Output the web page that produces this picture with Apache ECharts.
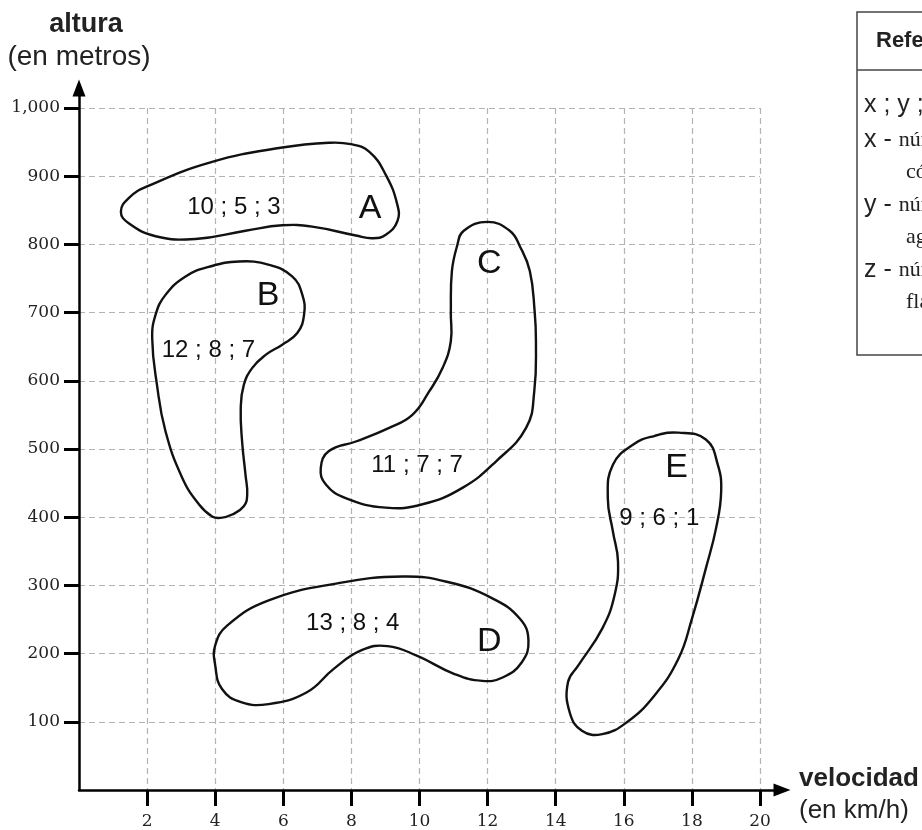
<!DOCTYPE html>
<html>
<head>
<meta charset="utf-8">
<script src="https://cdn.jsdelivr.net/npm/echarts@6/dist/echarts.min.js"></script>
<style>
  html, body { margin: 0; padding: 0; background: #fff; }
  #chart { width: 922px; height: 830px; }
</style>
</head>
<body>
<div id="chart"></div>
<script>
const xTicks = [2, 4, 6, 8, 10, 12, 14, 16, 18, 20];
const yTicks = [100, 200, 300, 400, 500, 600, 700, 800, 900, 1000];

const groups = ["A", "B", "C", "D", "E"];
const groupValues = ["10 ; 5 ; 3", "12 ; 8 ; 7", "11 ; 7 ; 7", "13 ; 8 ; 4", "9 ; 6 ; 1"];
const letterPos = [[8.55, 853], [5.55, 725], [12.05, 772], [12.05, 218], [17.55, 473]];
const valuePos = [[4.55, 855], [3.8, 645], [9.93, 476], [8.04, 245], [17.04, 399]];

// outlines (velocidad, altura)
const blobA = [[1.23, 848], [1.46, 868], [2.0, 885], [3.91, 921], [5.97, 942], [7.34, 949], [7.98, 947],
  [8.52, 936], [9.01, 902], [9.35, 858], [9.35, 834], [9.01, 814], [8.62, 809], [8.13, 813], [6.85, 826],
  [5.97, 828], [4.89, 820], [3.42, 808], [2.25, 812], [1.46, 831]];
const blobB = [[4.7, 775], [5.58, 770], [6.26, 753], [6.56, 726], [6.61, 697], [6.41, 670], [5.97, 653],
  [5.48, 638], [5.09, 619], [4.84, 594], [4.75, 560], [4.79, 511], [4.89, 462], [4.94, 433], [4.84, 416],
  [4.5, 404], [4.16, 399], [3.91, 401], [3.52, 419], [3.03, 458], [2.54, 526], [2.29, 594], [2.15, 662],
  [2.25, 697], [2.54, 726], [3.13, 753], [3.81, 767]];
const blobC = [[12.0, 833], [11.3, 820], [11.1, 797], [10.95, 760], [10.92, 700], [10.92, 658], [10.68, 619],
  [10.28, 584], [9.79, 550], [9.11, 531], [8.13, 511], [7.34, 497], [7.1, 472], [7.25, 448], [7.83, 428],
  [9.01, 414], [10.09, 419], [11.26, 443], [12.25, 482], [13.13, 531], [13.37, 584], [13.42, 658],
  [13.38, 703], [13.24, 761], [12.95, 797], [12.65, 820]];
const blobD = [[4.0, 212], [4.35, 241], [5.57, 278], [7.59, 303], [9.51, 313], [10.83, 305], [12.14, 281],
  [12.95, 251], [13.2, 219], [13.0, 187], [12.44, 165], [11.84, 160], [11.03, 170], [9.92, 197], [9.06, 211],
  [8.3, 205], [7.49, 178], [6.68, 143], [5.57, 126], [4.76, 129], [4.2, 148], [4.0, 183]];
const blobE = [[17.6, 524], [18.41, 514], [18.76, 477], [18.86, 438], [18.71, 384], [18.41, 325], [18.0, 251],
  [17.6, 192], [16.89, 138], [16.08, 99], [15.37, 82], [14.77, 87], [14.41, 114], [14.36, 158], [14.67, 183],
  [15.37, 237], [15.73, 286], [15.83, 335], [15.68, 379], [15.53, 428], [15.68, 477], [16.29, 507], [16.89, 519]];
const blobs = [blobA, blobB, blobC, blobD, blobE];

const legendTitle = "Referencia";
const legendLines = [
  "{s|x ; y ; z}",
  "{s|x - }{r|número de}",
  "{r|cóndores}",
  "{s|y - }{r|número de}",
  "{r|aguiluchos}",
  "{s|z - }{r|número de}",
  "{r|flamencos}",
];

const SANS = '"Liberation Sans", Arial, sans-serif';
const SERIF = '"DejaVu Serif", serif';

const chart = echarts.init(document.getElementById("chart"), null, { renderer: "canvas" });

const yNameRich = {
  b: { fontFamily: SANS, fontWeight: "bold", fontSize: 27, color: "#222", lineHeight: 33, padding: [0, 0, 0, 14] },
  n: { fontFamily: SANS, fontSize: 28, color: "#222", lineHeight: 33 },
};
const xNameRich = {
  b: { fontFamily: SANS, fontWeight: "bold", fontSize: 26, color: "#222", lineHeight: 32 },
  n: { fontFamily: SANS, fontSize: 26, color: "#222", lineHeight: 32 },
};

const legendX = 864;
const legendRowY = [105, 140, 172, 205, 237, 270, 302];
const legendIndent = [0, 0, 42, 0, 42, 0, 42];

chart.setOption({
  animation: false,
  backgroundColor: "#fff",
  grid: [
    { left: 79, right: 162, top: 108, bottom: 40 },
    { left: 79, right: 140, top: 88, bottom: 40 },
  ],
  xAxis: [
    {
      gridIndex: 0, type: "value", min: 0, max: 20, interval: 2,
      axisLine: { show: false },
      axisTick: { show: true, customValues: xTicks, length: 16, lineStyle: { color: "#000", width: 3 } },
      axisLabel: { customValues: xTicks, margin: 23, fontFamily: SERIF, fontSize: 17, color: "#222" },
      splitLine: { show: true, lineStyle: { color: "#b3b3b3", width: 1.2, type: [6, 4] } },
    },
    {
      gridIndex: 1, type: "value", min: 0, max: 1, z: 5,
      axisLine: { show: true, symbol: ["none", "triangle"], symbolSize: [13, 17], lineStyle: { color: "#000", width: 2.5 } },
      axisTick: { show: false }, axisLabel: { show: false }, splitLine: { show: false },
      name: "{b|velocidad}\n{n|(en km/h)}", nameLocation: "end", nameGap: 17,
      nameTextStyle: { align: "left", verticalAlign: "middle", padding: [10, 0, 0, 0], rich: xNameRich },
    },
  ],
  yAxis: [
    {
      gridIndex: 0, type: "value", min: 0, max: 1000, interval: 100,
      axisLine: { show: false },
      axisTick: { show: true, customValues: yTicks, length: 15, lineStyle: { color: "#000", width: 3 } },
      axisLabel: {
        customValues: yTicks, margin: 19, fontFamily: SERIF, fontSize: 17, color: "#222",
        formatter: (v) => v.toLocaleString("en-US"),
      },
      splitLine: { show: true, lineStyle: { color: "#b3b3b3", width: 1.2, type: [6, 4] } },
    },
    {
      gridIndex: 1, type: "value", min: 0, max: 1, z: 5,
      axisLine: { show: true, symbol: ["none", "triangle"], symbolSize: [13, 17], lineStyle: { color: "#000", width: 2.5 } },
      axisTick: { show: false }, axisLabel: { show: false }, splitLine: { show: false },
      name: "{b|altura}\n{n|(en metros)}", nameLocation: "end", nameGap: 14,
      nameTextStyle: { align: "center", verticalAlign: "bottom", rich: yNameRich },
    },
  ],
  series: [
    {
      type: "custom", name: "zonas", xAxisIndex: 0, yAxisIndex: 0, clip: false,
      data: valuePos,
      renderItem: (params, api) => ({
        type: "polygon",
        shape: { points: blobs[params.dataIndex].map((p) => api.coord(p)), smooth: 0.45 },
        style: { fill: "none", stroke: "#111", lineWidth: 2.4 },
      }),
    },
    {
      type: "custom", name: "valores", xAxisIndex: 0, yAxisIndex: 0, clip: false,
      data: valuePos,
      renderItem: (params, api) => {
        const p = api.coord([api.value(0), api.value(1)]);
        return {
          type: "text", x: p[0], y: p[1],
          style: { text: groupValues[params.dataIndex], font: `24px ${SANS}`, fill: "#111", align: "center", verticalAlign: "middle" },
        };
      },
    },
    {
      type: "custom", name: "grupos", xAxisIndex: 0, yAxisIndex: 0, clip: false,
      data: letterPos,
      renderItem: (params, api) => {
        const p = api.coord([api.value(0), api.value(1)]);
        return {
          type: "text", x: p[0], y: p[1],
          style: { text: groups[params.dataIndex], font: `34px ${SANS}`, fill: "#111", align: "center", verticalAlign: "middle" },
        };
      },
    },
  ],
  graphic: [
    { type: "rect", shape: { x: 857, y: 12, width: 120, height: 343 }, style: { fill: "#fff", stroke: "#444", lineWidth: 1.5 } },
    { type: "line", shape: { x1: 857, y1: 70, x2: 922, y2: 70 }, style: { stroke: "#444", lineWidth: 1.5 } },
    { type: "text", x: 876, y: 41, style: { text: legendTitle, font: `bold 22px ${SANS}`, fill: "#222", verticalAlign: "middle" } },
    ...legendLines.map((t, i) => ({
      type: "text", x: legendX + legendIndent[i], y: legendRowY[i],
      style: {
        text: t, verticalAlign: "middle",
        rich: {
          s: { fontFamily: SANS, fontSize: 25, fill: "#222" },
          r: { fontFamily: '"Liberation Serif", serif', fontSize: 22, fill: "#222" },
        },
      },
    })),
  ],
});
</script>
</body>
</html>
